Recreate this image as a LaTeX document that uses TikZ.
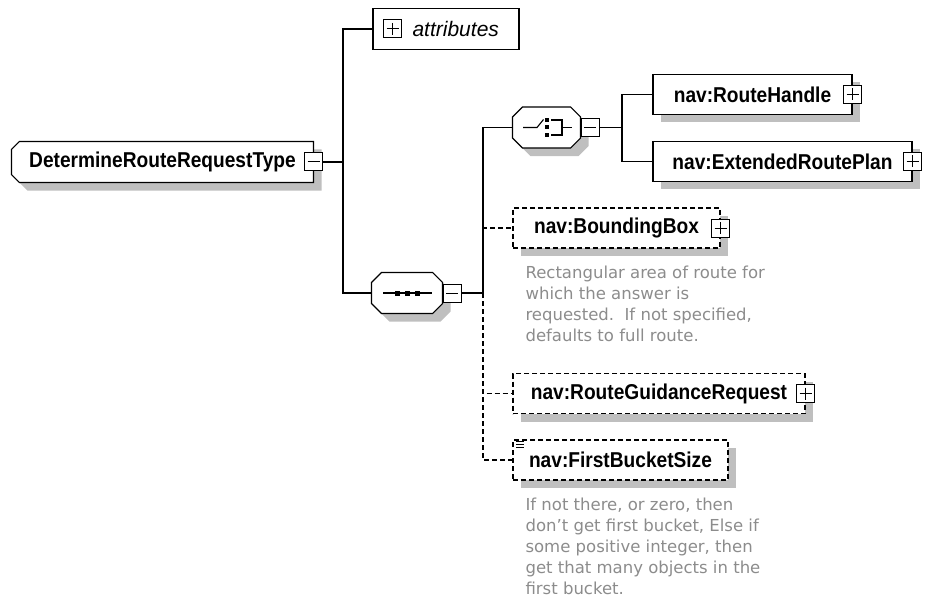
\documentclass[tikz,border=0pt]{standalone}
\usepackage{fontspec}
\setmainfont{Liberation Sans}
\newfontfamily\elemfont[FakeStretch=0.89]{Liberation Sans}
\newfontfamily\notefont{DejaVu Sans}
\usetikzlibrary{shadows,positioning,backgrounds}

% outline of a node with cut corners: node, left cut, right cut
\newcommand\chamferpath[3]{([xshift=#2pt]#1.north west) -- ([xshift=-#3pt]#1.north east) -- ([yshift=-#3pt]#1.north east)
    -- ([yshift=#3pt]#1.south east) -- ([xshift=-#3pt]#1.south east) -- ([xshift=#2pt]#1.south west)
    -- ([yshift=#2pt]#1.south west) -- ([yshift=-#2pt]#1.north west) -- cycle}

\begin{document}
\begin{tikzpicture}[x=1pt,y=-1pt,line width=1.1pt,
    every node/.style={inner sep=0pt},
    box shadow/.style={drop shadow={shadow xshift=8pt,shadow yshift=-8pt,fill=black!25,opacity=1}},
    elem/.style={draw,fill=white,box shadow,line width=1.2pt,minimum height=40pt,
        font=\elemfont\bfseries\fontsize{21.5}{24}\selectfont},
    opt elem/.style={elem,dash pattern=on 5pt off 3pt},
    compositor/.style={minimum height=40pt},
    outline/.style={draw,fill=white,box shadow,line width=1.2pt},
    toggle/.style={draw,fill=white,minimum size=18pt,line width=1pt},
    plusbox/.style={toggle,path picture={
        \draw[line width=1pt] ([xshift=3pt]path picture bounding box.west) -- ([xshift=-3pt]path picture bounding box.east)
            ([yshift=-3pt]path picture bounding box.north) -- ([yshift=3pt]path picture bounding box.south);}},
    minusbox/.style={toggle,path picture={
        \draw[line width=1pt] ([xshift=3pt]path picture bounding box.west) -- ([xshift=-3pt]path picture bounding box.east);}},
    note/.style={anchor=north west,align=left,text=black!45,font=\notefont\fontsize{16.5}{21}\selectfont}]

    \useasboundingbox (0,0) rectangle (927,607);

    % Define vertices
    \node[compositor,minimum width=301pt,font=\elemfont\bfseries\fontsize{21.5}{24}\selectfont] (root) at (162.5,162)
        {DetermineRouteRequestType\hspace{13pt}};
    \node[minusbox] (rootm) at (root.east) {};

    \node[draw,line width=1.2pt,minimum width=146pt,minimum height=41pt] (attr) at (446,29) {};
    \node[plusbox] (attrp) at (392.5,29) {};
    \node[font=\itshape\fontsize{21}{24}\selectfont,anchor=west] (attrtext) [right=10pt of attrp] {attributes};

    \node[compositor,minimum width=70pt] (seq) at (407,293) {};
    \node[minusbox] (seqm) [right=0pt of seq] {};

    \node[compositor,minimum width=67pt] (choice) at (546.5,127.5) {};
    \node[minusbox] (choicem) [right=0pt of choice] {};

    \node[elem,minimum width=199pt] (handle) at (752.5,94.5) {nav:RouteHandle};
    \node[plusbox] (handlep) at (handle.east) {};
    \node[elem,minimum width=259pt] (plan) at (782.5,161.5) {nav:ExtendedRoutePlan};
    \node[plusbox] (planp) at (plan.east) {};

    \node[opt elem,minimum width=207pt] (bbox) at (616.5,228) {nav:BoundingBox};
    \node[plusbox] (bboxp) at (bbox.east) {};
    \node[note] (bboxnote) at (525,265) {Rectangular area of route for\\which the answer is\\requested.\ \ If not specified,\\defaults to full route.};

    \node[opt elem,minimum width=292pt] (guide) at (659,393.5) {nav:RouteGuidanceRequest};
    \node[plusbox] (guidep) at (guide.east) {};

    \node[opt elem,minimum width=215pt] (bucket) at (620.5,460) {nav:FirstBucketSize};
    \node[note] (bucketnote) at (525,497.5) {If not there, or zero, then\\don’t get first bucket, Else if\\some positive integer, then\\get that many objects in the\\first bucket.};

    % Cut-corner outlines
    \begin{scope}[on background layer]
        \path[outline] \chamferpath{root}{8}{0};
        \path[outline] \chamferpath{seq}{10}{10};
        \path[outline] \chamferpath{choice}{10}{10};
    \end{scope}

    % Compositor marks
    \begin{scope}[shift={(seq.center)}]
        \draw (-24,0) -- (25,0);
        \foreach \i in {-10,0,10}
            \fill (\i-2.5,-2.5) rectangle (\i+2.5,2.5);
    \end{scope}
    \begin{scope}[shift={(choice.center)}]
        \draw (-23.5,0) -- (-9.5,0) -- (-3,-8);
        \foreach \j in {-7.5,0,7.5}
            \fill (-1.5,\j-2) rectangle (2.5,\j+2);
        \draw (4.5,-7.5) -- (15.5,-7.5) -- (15.5,7.5) -- (4.5,7.5) (15.5,0) -- (25.5,0);
    \end{scope}
    \begin{scope}[shift={(bucket.north west)},line width=0.8pt]
        \foreach \k in {2,5,8}
            \draw (4,\k) -- (12,\k);
    \end{scope}

    % Draw edges
    \coordinate (s1) at (343,162);
    \coordinate (s2) at (483,293);
    \coordinate (s3) at (622,127.5);
    \draw (rootm.east) -- (s1);
    \draw (attr.west) -| (s1) |- (seq.west);
    \draw (seqm.east) -- (s2) |- (choice.west);
    \draw[dash pattern=on 5pt off 3pt] (s2) |- (bbox.west) (s2) |- (guide.west) (s2) |- (bucket.west);
    \draw (choicem.east) -- (s3);
    \draw (handle.west) -| (s3) |- (plan.west);

\end{tikzpicture}
\end{document}
